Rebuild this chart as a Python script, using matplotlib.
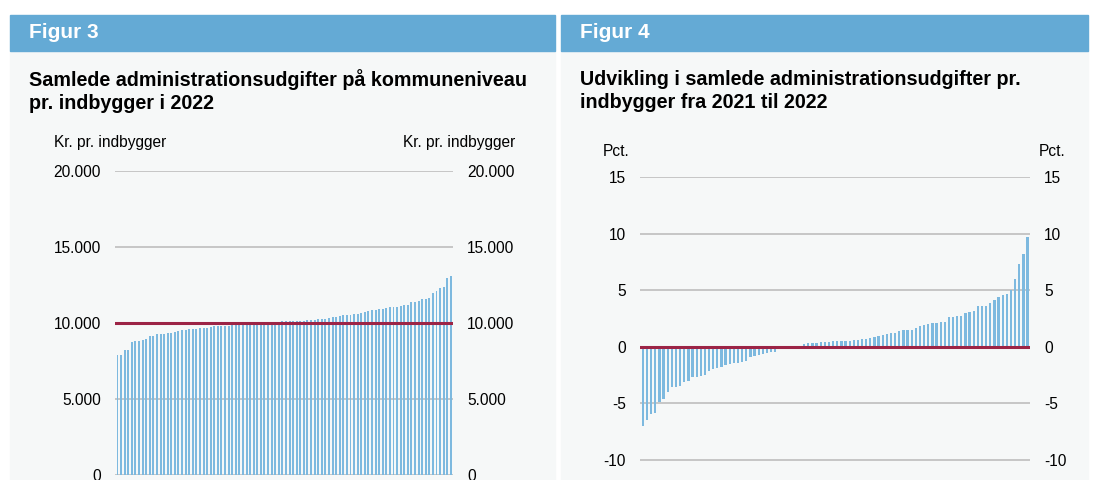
import matplotlib.pyplot as plt
from matplotlib.patches import Rectangle
from matplotlib.ticker import FuncFormatter

plt.rcParams['font.family'] = ['Liberation Sans', 'DejaVu Sans']
plt.rcParams['axes.unicode_minus'] = False

W, H = 1093, 480

# Figur 3: kr. pr. indbygger, sorted per kommune
admin_2022 = [
    7900, 7900, 8230, 8230, 8770, 8800, 8800, 8880, 8950, 9150,
    9150, 9280, 9280, 9280, 9340, 9340, 9430, 9450, 9520, 9520,
    9600, 9600, 9600, 9650, 9670, 9670, 9740, 9780, 9780, 9780,
    9780, 9830, 9870, 9870, 9890, 9900, 9955, 9960, 9970, 9980,
    9990, 10000, 10010, 10020, 10040, 10060, 10100, 10150, 10150, 10150,
    10150, 10150, 10150, 10190, 10190, 10210, 10260, 10260, 10260, 10330,
    10420, 10420, 10460, 10530, 10530, 10530, 10590, 10590, 10660, 10700,
    10790, 10840, 10840, 10900, 10950, 10990, 11030, 11030, 11030, 11120,
    11180, 11180, 11360, 11400, 11450, 11560, 11600, 11620, 11950, 12080,
    12290, 12370, 12980, 13070,
]
admin_avg = 10000

# Figur 4: pct. change 2021-2022, sorted per kommune
admin_change = [
    -6.97, -6.47, -5.97, -5.82, -4.85, -4.65, -3.97, -3.59, -3.53, -3.50,
    -3.09, -3.03, -2.71, -2.65, -2.56, -2.50, -2.15, -1.94, -1.88, -1.76,
    -1.65, -1.56, -1.47, -1.41, -1.35, -1.26, -0.91, -0.85, -0.76, -0.68,
    -0.53, -0.50, -0.47, -0.15, -0.09, -0.03, 0.00, 0.01, 0.05, 0.29,
    0.30, 0.33, 0.36,
    0.39, 0.45, 0.45, 0.51, 0.51, 0.51, 0.54, 0.54, 0.60, 0.60,
    0.68, 0.71, 0.80, 0.86, 0.92, 1.04, 1.10, 1.19, 1.25, 1.40,
    1.46, 1.52, 1.52, 1.67, 1.82, 1.96, 2.05, 2.11, 2.14, 2.17,
    2.17, 2.59, 2.59, 2.68, 2.71, 2.98, 3.10, 3.15, 3.57, 3.63,
    3.63, 3.90, 4.17, 4.38, 4.58, 4.64, 5.06, 6.01, 7.32, 8.21, 9.67,
]
change_avg = 0

ticks3 = [0, 5000, 10000, 15000, 20000]
ticks4 = [-15, -10, -5, 0, 5, 10, 15]

BLUE_HEAD = '#64AAD5'
PANEL_BG = '#F6F8F8'
BAR = '#7DB9DF'
RED = '#9C2446'
GRID = '#BEBEBE'


def fx(x):
    return x / W


def fy(y):
    return 1 - y / H


def thousands(v, pos):
    return f"{int(v):,}".replace(",", ".")


fig = plt.figure(figsize=(W / 100, H / 100), dpi=100)
fig.patch.set_facecolor('white')

# panel backgrounds and headers
for x0, x1, label in [(10, 555, 'Figur 3'), (561, 1088, 'Figur 4')]:
    fig.add_artist(Rectangle((fx(x0), 0), fx(x1 - x0), fy(51),
                             transform=fig.transFigure, color=PANEL_BG, zorder=0))
    fig.add_artist(Rectangle((fx(x0), fy(51)), fx(x1 - x0), 36 / H,
                             transform=fig.transFigure, color=BLUE_HEAD, zorder=0))
    fig.text(fx(x0 + 19), fy(33), label, color='white', fontsize=15,
             fontweight='bold', va='center', ha='left')

fig.text(fx(29), fy(91), "Samlede administrationsudgifter på kommuneniveau\npr. indbygger i 2022",
         fontsize=14.2, fontweight='bold', va='center', ha='left', linespacing=1.3)
fig.text(fx(580), fy(91), "Udvikling i samlede administrationsudgifter pr.\nindbygger fra 2021 til 2022",
         fontsize=14.2, fontweight='bold', va='center', ha='left', linespacing=1.3)


def setup(ax, ticks, fmt=None):
    ax.set_facecolor('none')
    for s in ax.spines.values():
        s.set_visible(False)
    ax.set_yticks(ticks)
    ax.set_xticks([])
    ax.grid(axis='y', color=GRID, linewidth=1.2, zorder=0)
    ax.tick_params(axis='y', length=0, labelleft=True, labelright=True,
                   labelsize=11.2, pad=10)
    if fmt:
        ax.yaxis.set_major_formatter(FuncFormatter(fmt))


# Figur 3
ax3 = fig.add_axes([fx(115), fy(475), fx(453 - 115), (475 - 171) / H])
n3 = len(admin_2022)
ax3.bar(range(n3), admin_2022, width=0.55, color=BAR, zorder=2)
ax3.axhline(admin_avg, color=RED, linewidth=2.2, zorder=3)
ax3.set_xlim(-0.7, n3 - 0.4)
ax3.set_ylim(0, 20000)
setup(ax3, ticks3, thousands)
fig.text(fx(54), fy(143), "Kr. pr. indbygger", fontsize=11.2, va='center', ha='left')
fig.text(fx(515), fy(143), "Kr. pr. indbygger", fontsize=11.2, va='center', ha='right')

# Figur 4
step = (460 - 177) / 25
ax4 = fig.add_axes([fx(640), fy(177 + 30 * step), fx(1030 - 640), 30 * step / H])
n4 = len(admin_change)
ax4.bar(range(n4), admin_change, width=0.55, color=BAR, zorder=2)
ax4.axhline(change_avg, color=RED, linewidth=2.2, zorder=3)
ax4.set_xlim(-0.7, n4 - 0.4)
ax4.set_ylim(-15, 15)
setup(ax4, ticks4)
fig.text(fx(603), fy(152), "Pct.", fontsize=11.2, va='center', ha='left')
fig.text(fx(1066), fy(152), "Pct.", fontsize=11.2, va='center', ha='right')

fig.savefig("out.png", dpi=100)
